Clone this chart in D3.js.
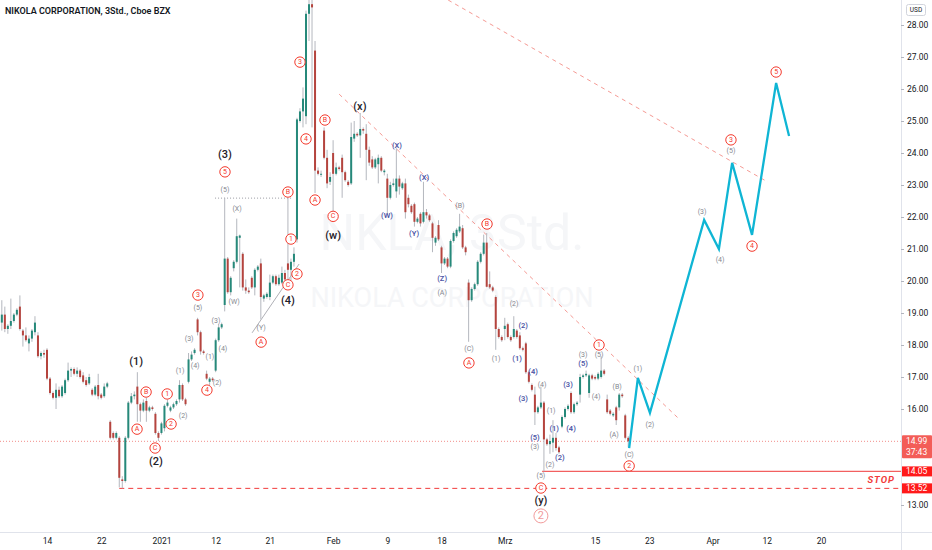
<!DOCTYPE html>
<html>
<head>
<meta charset="utf-8">
<script src="https://cdn.jsdelivr.net/npm/d3@7"></script>
<style>
  body { margin: 0; background: #fff; }
  text { font-family: Roboto, "Noto Sans", sans-serif; }
</style>
</head>
<body>
<div id="chart"></div>
<script>
// 3h bars [open, high, low, close], first bar 7 Dec 2020
const decBars = [
  [18.7,19.4,18.45,18.95],[18.95,19.2,18.4,18.5],[18.5,18.65,18.35,18.6],[18.6,19.45,18.5,18.75],
  [18.75,19.0,18.7,18.95],[18.95,19.15,18.9,19.1],[19.2,19.55,18.45,18.5],[18.45,18.5,17.95,18.3],
  [18.3,18.55,18.1,18.15],[18.05,18.3,17.8,18.2],[18.2,18.5,18.1,18.45],[18.4,18.9,18.3,18.7],
  [18.3,18.4,17.6,17.65],[17.65,17.8,17.55,17.75],[17.75,17.85,17.6,17.7],[17.85,17.9,16.9,16.95],
  [16.95,17.0,16.45,16.5],[16.5,16.55,16.3,16.35],[16.35,16.8,16.0,16.6],[16.6,16.7,16.35,16.4],
  [16.4,16.75,16.35,16.7],[16.5,16.95,16.45,16.9],[16.9,17.45,16.85,17.2],[17.2,17.3,17.0,17.25],
  [17.25,17.3,17.05,17.1],[17.1,17.3,17.0,17.2],[17.2,17.25,16.95,17.0],[17.05,17.15,16.8,16.85],
  [16.9,17.0,16.7,16.75],[16.8,17.1,16.75,17.0],[16.6,16.65,16.4,16.45],[16.45,16.75,16.4,16.7],
  [16.75,17.1,16.3,16.4],[16.45,16.5,16.3,16.35],[16.4,16.8,16.35,16.7],[16.7,16.85,16.65,16.8],
  [15.6,15.65,15.05,15.1],[15.25,15.3,15.05,15.1],[15.1,15.3,15.05,15.25],[15.1,15.15,13.55,13.85],
  [13.8,13.9,13.52,13.75],[13.75,15.15,13.7,15.1],[15.1,16.25,15.05,16.2],[16.2,16.5,16.15,16.4],
  [16.4,16.55,16.3,16.45],[16.7,17.15,15.6,16.15],[16.15,16.2,15.6,15.95],[15.95,16.3,15.9,16.2],
  [16.25,16.35,15.6,15.95],[15.95,16.1,15.9,16.05],[16.05,16.1,15.95,16.0],[15.85,15.9,15.2,15.25],
  [15.25,15.3,15.0,15.1]
];
const janBars = [
  [15.25,15.6,15.2,15.55],[15.4,16.15,15.3,16.1],[16.1,16.3,16.05,16.2],[15.95,16.1,15.9,16.05],
  [16.05,16.2,16.0,16.15],[16.15,16.3,16.1,16.25],[16.3,16.9,16.2,16.75],[16.75,16.8,16.25,16.3],
  [16.3,16.35,16.1,16.15],[16.85,17.75,16.8,17.55],[17.55,17.8,17.5,17.7],[17.75,17.9,17.7,17.85],
  [18.8,18.85,18.3,18.4],[18.4,18.45,17.7,17.8],[17.8,17.85,17.7,17.75],[17.1,17.2,16.9,16.95],
  [16.85,17.0,16.75,16.95],[16.95,17.0,16.85,16.9],[17.2,18.2,17.15,18.15],[18.15,18.65,18.1,18.55],
  [18.55,18.7,18.5,18.65],[19.25,22.6,19.05,20.7],[20.7,20.75,19.6,19.65],[19.65,20.15,19.55,20.1],
  [20.4,20.65,20.3,20.6],[20.6,21.95,20.55,21.4],[21.35,21.45,19.8,21.42],[20.85,20.9,19.7,19.8],
  [19.8,20.05,19.6,19.7],[19.7,19.8,19.6,19.65],[20.1,20.15,19.75,19.8],[19.8,20.4,19.55,20.35],
  [20.35,20.5,20.3,20.45],[20.55,20.7,18.8,19.5],[19.45,19.6,19.35,19.55],[19.5,19.65,19.45,19.6],
  [19.5,20.2,19.4,19.95],[19.95,20.2,19.9,20.15],[20.15,20.2,19.85,19.9],[19.9,20.2,19.85,20.1],
  [19.95,20.45,19.9,20.25],[20.25,20.35,19.95,20.05],[20.55,22.6,20.0,20.35],[20.35,20.7,20.0,20.6],
  [20.6,21.05,20.45,20.85],[21.3,25.1,21.2,25.05],[25.0,25.4,24.95,25.3],[25.3,26.05,24.8,25.7],
  [25.15,28.45,24.9,28.35],[28.35,28.9,27.5,28.65],[28.65,29.2,24.8,28.55],[27.2,27.5,22.75,23.45],
  [23.45,23.55,23.3,23.35],[23.35,23.45,23.25,23.35],[24.7,24.8,23.8,23.85],[23.85,24.1,22.9,23.05],
  [23.1,23.4,23.0,23.25]
];
const febBars = [
  [24.0,24.4,22.15,23.35],[23.35,23.7,23.3,23.55],[23.55,23.6,23.45,23.5],[23.85,23.95,22.6,23.4],
  [23.4,23.45,23.1,23.15],[23.1,23.15,22.95,23.0],[23.05,24.95,23.0,24.5],[24.45,25.0,24.35,24.6],
  [24.6,24.65,24.5,24.55],[24.55,25.25,23.85,24.75],[24.75,24.8,24.6,24.7],[24.6,24.9,23.15,24.1],
  [24.1,24.2,23.6,23.7],[23.8,23.9,23.5,23.55],[23.55,23.85,23.5,23.8],[23.65,23.95,23.05,23.85],
  [23.85,23.9,23.4,23.45],[23.4,23.5,23.3,23.45],[23.2,23.35,22.1,22.6],[22.6,23.1,22.55,23.0],
  [23.0,23.2,22.95,23.05],[22.8,24.15,22.6,23.2],[23.2,23.3,22.7,22.95],[22.9,23.1,22.85,23.05],
  [23.05,23.2,21.95,22.15],[22.6,22.7,22.3,22.4],[22.35,22.4,22.1,22.15],[22.4,22.45,21.7,21.85],
  [21.85,22.0,21.8,21.95],[22.1,22.15,21.7,21.8],[21.85,23.1,21.8,22.15],[22.15,22.25,21.95,22.05],
  [22.05,22.1,21.85,21.9],[21.8,21.85,20.9,21.35],[21.2,21.4,21.1,21.35],[21.75,21.9,21.25,21.3],
  [21.05,21.1,20.25,20.55],[20.55,20.75,20.5,20.7],[20.7,20.75,20.4,20.45],[20.45,21.3,20.4,21.25],
  [21.25,21.55,21.2,21.5],[21.4,21.65,21.35,21.6],[21.55,22.1,21.5,21.7],[21.65,21.75,21.0,21.05],
  [21.05,21.1,20.8,20.9],[19.95,20.05,18.1,19.4],[19.4,19.8,19.35,19.75],[19.75,19.95,19.7,19.9],
  [19.9,20.65,19.85,20.6],[20.6,20.9,20.55,20.85],[20.85,21.45,20.8,21.2],[21.2,21.5,19.8,19.82],
  [19.9,20.3,19.75,19.8],[19.8,19.85,19.65,19.7],[19.5,19.55,17.85,18.5],[18.5,18.55,18.2,18.25],
  [18.25,18.3,18.1,18.15]
];
const marBars = [
  [18.5,18.85,18.15,18.6],[18.65,18.7,18.2,18.25],[18.25,18.3,18.1,18.15],[18.25,18.9,18.2,18.5],
  [18.45,18.5,18.2,18.25],[18.3,18.4,17.85,17.9],[17.9,17.95,17.8,17.85],[18.05,18.1,17.1,17.15],
  [17.15,17.2,16.8,16.85],[16.75,16.8,16.55,16.6],[16.45,16.7,15.5,15.9],[15.9,16.1,15.85,16.05],
  [16.05,16.7,16.0,16.2],[16.2,16.25,14.05,15.05],[15.05,15.1,14.85,14.9],[14.9,15.2,14.6,15.0],
  [14.95,15.65,14.65,15.1],[15.1,15.25,14.7,14.78],[14.8,14.85,14.6,14.65],[15.45,15.8,15.4,15.75],
  [15.75,16.05,15.7,16.0],[16.0,16.15,15.95,16.1],[16.5,16.55,15.85,15.9],[15.9,16.2,15.85,16.15],
  [16.15,16.25,16.1,16.2],[16.45,17.1,16.2,17.0],[17.0,17.1,16.95,17.05],[17.05,17.2,17.0,17.1],
  [16.5,17.1,16.35,17.05],[17.05,17.1,16.9,16.95],[17.0,17.05,16.9,16.95],[16.95,17.15,16.9,17.1],
  [17.0,17.65,16.95,17.2],[17.2,17.25,17.05,17.1],[16.3,16.45,15.85,15.9],[15.95,16.0,15.8,15.85],
  [15.8,15.9,15.75,15.85],[16.05,16.1,15.5,15.65],[16.05,16.5,15.95,16.45],[16.45,16.5,16.35,16.4],
  [15.8,15.85,15.05,15.1],[15.1,15.15,14.8,14.99]
];
const bars = [...decBars, ...janBars, ...febBars, ...marBars];

// axes
const priceTicks = [13, 16, 17, 18, 19, 20, 21, 22, 23, 24, 25, 26, 27, 28];
const dateTickIdx = [15, 33, 53, 71, 89, 110, 128, 146, 167, 197, 215, 236, 254, 272];
const dateTickLabels = ["14", "22", "2021", "12", "21", "Feb", "9", "18", "Mrz", "15", "23", "Apr", "12", "20"];

// price levels
const lastPrice = 14.99;
const lastCountdown = "37:43";
const stopPrice = 14.05;
const stopFromIdx = 179.4;
const lowPrice = 13.52;
const lowFromIdx = 39;

// drawn lines [barIdx, price]
const projIdx = [208.3, 211.2, 215.2, 233.2, 238.1, 242.5, 249.1, 257.1, 261.4];
const projPrice = [14.78, 16.97, 15.88, 21.91, 21.0, 23.69, 21.44, 26.19, 24.53];
const upperTrend = [[148.2, 28.78], [254.4, 23.09]];
const lowerTrend = [[112.0, 25.84], [225.2, 15.66]];
const wave4Line = [[83.1, 18.38], [98.7, 20.53]];
const wave3Top = [[70.8, 22.59], [96.7, 22.59]];

// wave labels [barIdx, price, text]
const blackLabels = [
  [44.6, 17.47, "(1)"], [51.2, 14.37, "(2)"], [74.1, 23.94, "(3)"], [95.0, 19.38, "(4)"],
  [110.0, 21.42, "(w)"], [118.9, 25.44, "(x)"], [179.0, 13.14, "(y)"]
];
const circleLabels = [
  [47.9, 16.53, "B"], [44.9, 15.37, "A"], [50.9, 14.78, "C"], [54.9, 16.47, "1"], [56.2, 15.53, "2"],
  [65.1, 19.56, "3"], [68.1, 16.59, "4"], [74.1, 23.41, "5"], [95.0, 22.78, "B"], [96.0, 21.31, "1"],
  [98.0, 20.22, "2"], [95.0, 19.88, "C"], [86.1, 18.09, "A"], [99.0, 26.84, "3"], [101.0, 24.44, "4"],
  [104.0, 22.53, "A"], [107.3, 25.03, "B"], [110.0, 22.02, "C"], [161.1, 21.78, "B"], [155.1, 17.44, "A"],
  [198.3, 18.0, "1"], [208.3, 14.22, "2"], [179.0, 13.53, "C"], [242.1, 24.41, "3"], [249.1, 21.09, "4"],
  [257.1, 26.53, "5"]
];
const bigCircleLabels = [[179.0, 12.66, "2"]];
const grayLabels = [
  [59.2, 17.19, "(1)"], [60.2, 15.78, "(2)"], [62.2, 18.19, "(3)"], [64.2, 17.34, "(4)"], [65.1, 19.16, "(5)"],
  [69.1, 17.62, "(1)"], [71.5, 16.81, "(2)"], [71.1, 18.75, "(3)"], [73.4, 17.87, "(4)"], [74.1, 22.84, "(5)"],
  [78.1, 22.25, "(X)"], [77.1, 19.34, "(W)"], [86.1, 18.53, "(Y)"], [152.1, 22.34, "(B)"], [146.2, 19.63, "(A)"],
  [155.1, 17.88, "(C)"], [170.1, 19.28, "(2)"], [164.1, 17.56, "(1)"], [179.4, 16.75, "(4)"], [177.0, 14.81, "(3)"],
  [182.0, 14.25, "(2)"], [182.4, 15.94, "(1)"], [179.0, 13.91, "(5)"], [193.0, 17.69, "(3)"], [198.3, 17.69, "(5)"],
  [197.3, 16.38, "(4)"], [204.3, 16.69, "(B)"], [203.3, 15.19, "(A)"], [208.3, 14.56, "(C)"], [211.2, 17.25, "(1)"],
  [215.2, 15.5, "(2)"], [242.1, 24.06, "(5)"], [232.5, 22.16, "(3)"], [238.5, 20.66, "(4)"]
];
const blueLabels = [
  [131.2, 24.22, "(X)"], [127.9, 22.06, "(W)"], [140.2, 23.22, "(X)"], [136.9, 21.47, "(Y)"], [146.2, 20.09, "(Z)"],
  [173.1, 18.62, "(2)"], [171.1, 17.59, "(1)"], [176.4, 17.16, "(4)"], [173.1, 16.34, "(3)"], [177.0, 15.12, "(5)"],
  [183.4, 15.38, "(1)"], [185.3, 14.47, "(2)"], [188.0, 16.78, "(3)"], [189.0, 15.38, "(4)"], [193.0, 17.41, "(5)"]
];

const width = 932, height = 550;
const plotRight = 901, plotBottom = 532;

const x = d3.scaleLinear().domain([15, 272]).range([47, 821]);
const y = d3.scaleLinear().domain([13, 28]).range([505, 25]);

const svg = d3.select("#chart").append("svg")
    .attr("width", width)
    .attr("height", height);

svg.append("defs").append("clipPath").attr("id", "plot-clip")
    .append("rect").attr("width", plotRight).attr("height", plotBottom);

const plot = svg.append("g").attr("clip-path", "url(#plot-clip)");

// watermark, barely visible
plot.append("text")
    .attr("x", 452).attr("y", 250)
    .attr("text-anchor", "middle")
    .attr("font-size", 50)
    .attr("fill", "#f5f6f8")
    .text("NKLA, 3Std.");
plot.append("text")
    .attr("x", 452).attr("y", 307)
    .attr("text-anchor", "middle")
    .attr("font-size", 27)
    .attr("fill", "#f5f6f8")
    .text("NIKOLA CORPORATION");

// horizontal levels
plot.append("line")
    .attr("x1", 0).attr("x2", plotRight)
    .attr("y1", y(lastPrice)).attr("y2", y(lastPrice))
    .attr("stroke", "#f28e8a").attr("stroke-dasharray", "1,2");
plot.append("line")
    .attr("x1", x(lowFromIdx)).attr("x2", plotRight)
    .attr("y1", y(lowPrice)).attr("y2", y(lowPrice))
    .attr("stroke", "#f23a3a").attr("stroke-dasharray", "5,4");
plot.append("line")
    .attr("x1", x(stopFromIdx)).attr("x2", plotRight)
    .attr("y1", y(stopPrice)).attr("y2", y(stopPrice))
    .attr("stroke", "#f26060").attr("stroke-width", 1.3);

const seg = d3.line().x(d => x(d[0])).y(d => y(d[1]));

plot.append("path").attr("d", seg(upperTrend))
    .attr("fill", "none").attr("stroke", "#f59a94").attr("stroke-dasharray", "4,4");
plot.append("path").attr("d", seg(lowerTrend))
    .attr("fill", "none").attr("stroke", "#f59a94").attr("stroke-dasharray", "4,4");
plot.append("path").attr("d", seg(wave4Line))
    .attr("fill", "none").attr("stroke", "#9a9ca3").attr("stroke-width", 0.8);
plot.append("path").attr("d", seg(wave3Top))
    .attr("fill", "none").attr("stroke", "#9a9ca3").attr("stroke-dasharray", "1,2");

// candles
const candles = plot.append("g");
candles.selectAll("line")
    .data(bars)
    .join("line")
    .attr("x1", (d, i) => x(i)).attr("x2", (d, i) => x(i))
    .attr("y1", d => y(d[1])).attr("y2", d => y(d[2]))
    .attr("stroke", "#b4b7be").attr("stroke-width", 1);
candles.selectAll("rect")
    .data(bars)
    .join("rect")
    .attr("x", (d, i) => x(i) - 1)
    .attr("width", 2)
    .attr("y", d => y(Math.max(d[0], d[3])))
    .attr("height", d => Math.max(1, Math.abs(y(d[0]) - y(d[3]))))
    .attr("fill", d => d[3] >= d[0] ? "#26897a" : "#b5443e");

// projected path
plot.append("path")
    .attr("d", d3.line().x(d => x(d)).y((d, i) => y(projPrice[i]))(projIdx))
    .attr("fill", "none")
    .attr("stroke", "#0fb5d4")
    .attr("stroke-width", 2.3)
    .attr("stroke-linejoin", "miter");

// wave labels
function textLabels(data, size, color, weight) {
    plot.append("g").selectAll("text")
        .data(data)
        .join("text")
        .attr("x", d => x(d[0]))
        .attr("y", d => y(d[1]))
        .attr("text-anchor", "middle")
        .attr("dominant-baseline", "central")
        .attr("font-size", size)
        .attr("font-weight", weight)
        .attr("fill", color)
        .text(d => d[2]);
}
textLabels(grayLabels, 7, "#85888f", 400);
textLabels(blueLabels, 7.5, "#4d55a6", 600);
textLabels(blackLabels, 11, "#1e2028", 500);

function circledLabels(data, r, size, color) {
    const g = plot.append("g").selectAll("g")
        .data(data)
        .join("g")
        .attr("transform", d => `translate(${x(d[0])},${y(d[1])})`);
    g.append("circle").attr("r", r)
        .attr("fill", "#fff").attr("stroke", color).attr("stroke-width", 1);
    g.append("text")
        .attr("text-anchor", "middle")
        .attr("dominant-baseline", "central")
        .attr("font-size", size)
        .attr("fill", color)
        .text(d => d[2]);
}
circledLabels(circleLabels, 5.2, 7, "#f4392c");
circledLabels(bigCircleLabels, 7, 11, "#f29b9b");

// STOP tag
plot.append("text")
    .attr("x", 895).attr("y", y((stopPrice + lowPrice) / 2))
    .attr("text-anchor", "end")
    .attr("dominant-baseline", "central")
    .attr("font-size", 9.5)
    .attr("font-weight", 700)
    .attr("font-style", "italic")
    .attr("letter-spacing", 1)
    .attr("fill", "#f23a3a")
    .text("STOP");

// frame lines
svg.append("line")
    .attr("x1", plotRight + 0.5).attr("x2", plotRight + 0.5)
    .attr("y1", 0).attr("y2", height)
    .attr("stroke", "#e0e3eb");
svg.append("line")
    .attr("x1", 0).attr("x2", width)
    .attr("y1", plotBottom + 0.5).attr("y2", plotBottom + 0.5)
    .attr("stroke", "#e0e3eb");

// price axis
const yAxis = svg.append("g")
    .attr("transform", `translate(${plotRight},0)`)
    .call(d3.axisRight(y).tickValues(priceTicks).tickSize(3).tickPadding(3).tickFormat(d3.format(".2f")));
yAxis.select(".domain").remove();
yAxis.selectAll("line").attr("stroke", "#b2b5be");
yAxis.selectAll("text").attr("font-size", 8.5).attr("fill", "#131722").style("font-family", "Roboto, sans-serif");

// time axis
const xAxis = svg.append("g")
    .attr("transform", `translate(0,${plotBottom})`)
    .call(d3.axisBottom(x).tickValues(dateTickIdx).tickSize(0).tickPadding(6)
        .tickFormat((d, i) => dateTickLabels[i]));
xAxis.select(".domain").remove();
xAxis.selectAll("text").attr("font-size", 8.5).attr("fill", "#131722").style("font-family", "Roboto, sans-serif");

// price tags on the axis
const tags = svg.append("g");
tags.append("rect")
    .attr("x", plotRight + 1).attr("y", y(lastPrice) - 6)
    .attr("width", width - plotRight - 1).attr("height", 23)
    .attr("fill", "#f35d58").attr("rx", 1);
tags.append("text")
    .attr("x", plotRight + 5).attr("y", y(lastPrice))
    .attr("dominant-baseline", "central")
    .attr("font-size", 8.5).attr("fill", "#fff")
    .text(d3.format(".2f")(lastPrice));
tags.append("text")
    .attr("x", plotRight + 5).attr("y", y(lastPrice) + 11)
    .attr("dominant-baseline", "central")
    .attr("font-size", 8.5).attr("fill", "#fff")
    .text(lastCountdown);
[stopPrice, lowPrice].forEach(p => {
    tags.append("rect")
        .attr("x", plotRight + 1).attr("y", y(p) - 5)
        .attr("width", width - plotRight - 1).attr("height", 10)
        .attr("fill", "#ff1a1a");
    tags.append("text")
        .attr("x", plotRight + 5).attr("y", y(p))
        .attr("dominant-baseline", "central")
        .attr("font-size", 8.5).attr("fill", "#fff")
        .text(d3.format(".2f")(p));
});

// currency badge
svg.append("rect")
    .attr("x", 906.5).attr("y", 4.5).attr("width", 19).attr("height", 11).attr("rx", 2)
    .attr("fill", "#fff").attr("stroke", "#d1d4dc");
svg.append("text")
    .attr("x", 916).attr("y", 10)
    .attr("text-anchor", "middle").attr("dominant-baseline", "central")
    .attr("font-size", 6.5).attr("fill", "#131722")
    .text("USD");

// title
svg.append("text")
    .attr("x", 5).attr("y", 14)
    .attr("font-size", 9)
    .attr("font-weight", 600)
    .attr("fill", "#131722")
    .text("NIKOLA CORPORATION, 3Std., Cboe BZX");
</script>
</body>
</html>
